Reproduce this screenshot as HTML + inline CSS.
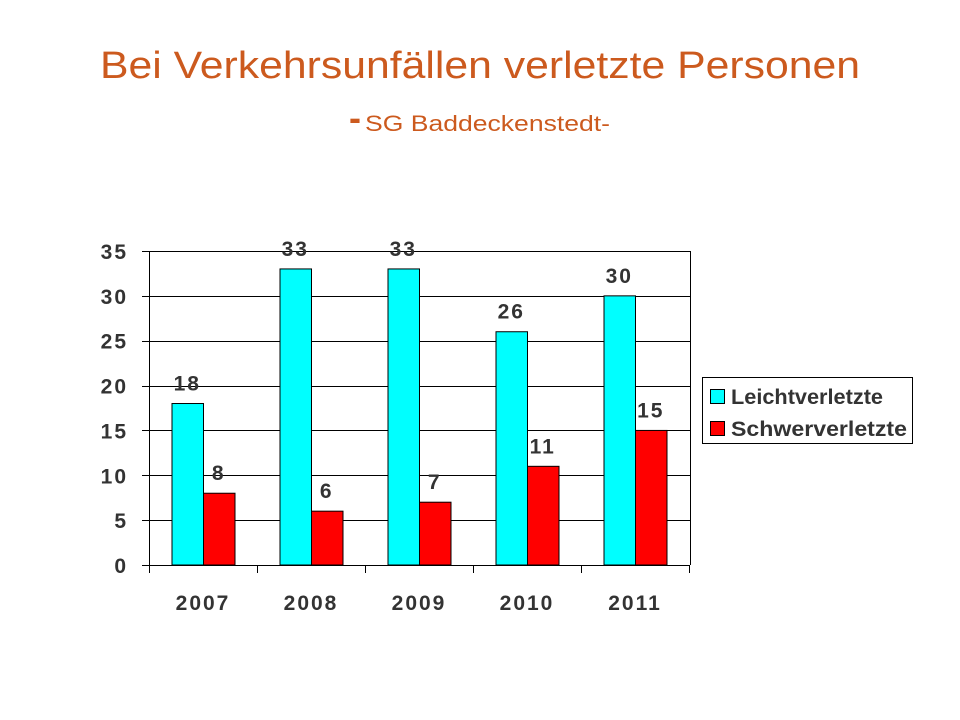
<!DOCTYPE html>
<html><head><meta charset="utf-8"><style>
body{margin:0;background:#fff;}
svg{display:block;font-family:"Liberation Sans",Arial,sans-serif;}
.lbl{font-weight:bold;fill:#333;font-size:21px;}
</style></head><body>
<svg id="c" width="960" height="720" viewBox="0 0 960 720">
<text x="100" y="78" font-size="38" fill="#CC5A1E" textLength="760" lengthAdjust="spacingAndGlyphs">Bei Verkehrsunfällen verletzte Personen</text>
<text x="349" y="130" font-size="36" font-weight="bold" fill="#CC5A1E">-</text>
<text x="365" y="131" font-size="22" fill="#CC5A1E" textLength="245" lengthAdjust="spacingAndGlyphs">SG Baddeckenstedt-</text>
<g id="plot"></g>
<g>
<rect x="702.5" y="377.5" width="210" height="66" fill="#fff" stroke="#000"/>
<rect x="710.5" y="389.5" width="14" height="14" fill="#00FFFF" stroke="#000"/>
<text x="731" y="404" class="lbl" font-size="21" textLength="152" lengthAdjust="spacingAndGlyphs">Leichtverletzte</text>
<rect x="710.5" y="421.5" width="14" height="14" fill="#FF0000" stroke="#000"/>
<text x="731" y="436" class="lbl" font-size="21" textLength="176" lengthAdjust="spacingAndGlyphs">Schwerverletzte</text>
</g>
</svg>
<script>
const categories=["2007","2008","2009","2010","2011"];
const leicht=[18,33,33,26,30];
const schwer=[8,6,7,11,15];
const yTicks=[0,5,10,15,20,25,30,35];
const NS="http://www.w3.org/2000/svg";
const g=document.getElementById("plot");
const X0=150,X1=690,Y0=565,Y1=251,YMAX=35;
const y=v=>Y0-(v/YMAX)*(Y0-Y1);
const bw=(X1-X0)/categories.length;
function el(t,a){const e=document.createElementNS(NS,t);for(const k in a)e.setAttribute(k,a[k]);g.appendChild(e);return e;}
yTicks.forEach(t=>{
 const l=el("line",{x1:142,x2:X1,y1:Math.round(y(t))+0.5,y2:Math.round(y(t))+0.5,stroke:"#000"});
 
 
 const tx=el("text",{x:128,y:y(t)+8,"text-anchor":"end",class:"lbl","letter-spacing":"2"});
 tx.textContent=t;
 
 
});
const r=el("line",{x1:X1+0.5,x2:X1+0.5,y1:Y1,y2:Y0,stroke:"#000"});


const ax=el("line",{x1:X0-0.5,x2:X0-0.5,y1:Y1,y2:Y0,stroke:"#000"});


for(let i=0;i<=categories.length;i++){
 const tk=el("line",{x1:X0+i*bw-0.5,x2:X0+i*bw-0.5,y1:Y0,y2:Y0+8,stroke:"#000"});
 
 
}
categories.forEach((c,i)=>{
 const cx=X0+i*bw+bw/2-1, w=31.5;
 [[leicht[i],"#00FFFF",cx-w,"leicht"],[schwer[i],"#FF0000",cx,"schwer"]].forEach(([v,col,x,n])=>{
  const b=el("rect",{x:x+0.5,y:y(v),width:w,height:Y0-y(v),fill:col,stroke:"#000"});
  
  
  const t=el("text",{x:x+w/2,y:y(v)-13,"text-anchor":"middle",class:"lbl","letter-spacing":"2"});
  t.textContent=v;
  
  
 });
 const xl=el("text",{x:cx,y:610,"text-anchor":"middle",class:"lbl","letter-spacing":"2"});
 xl.textContent=c;
 
 
});
</script>
</body></html>
